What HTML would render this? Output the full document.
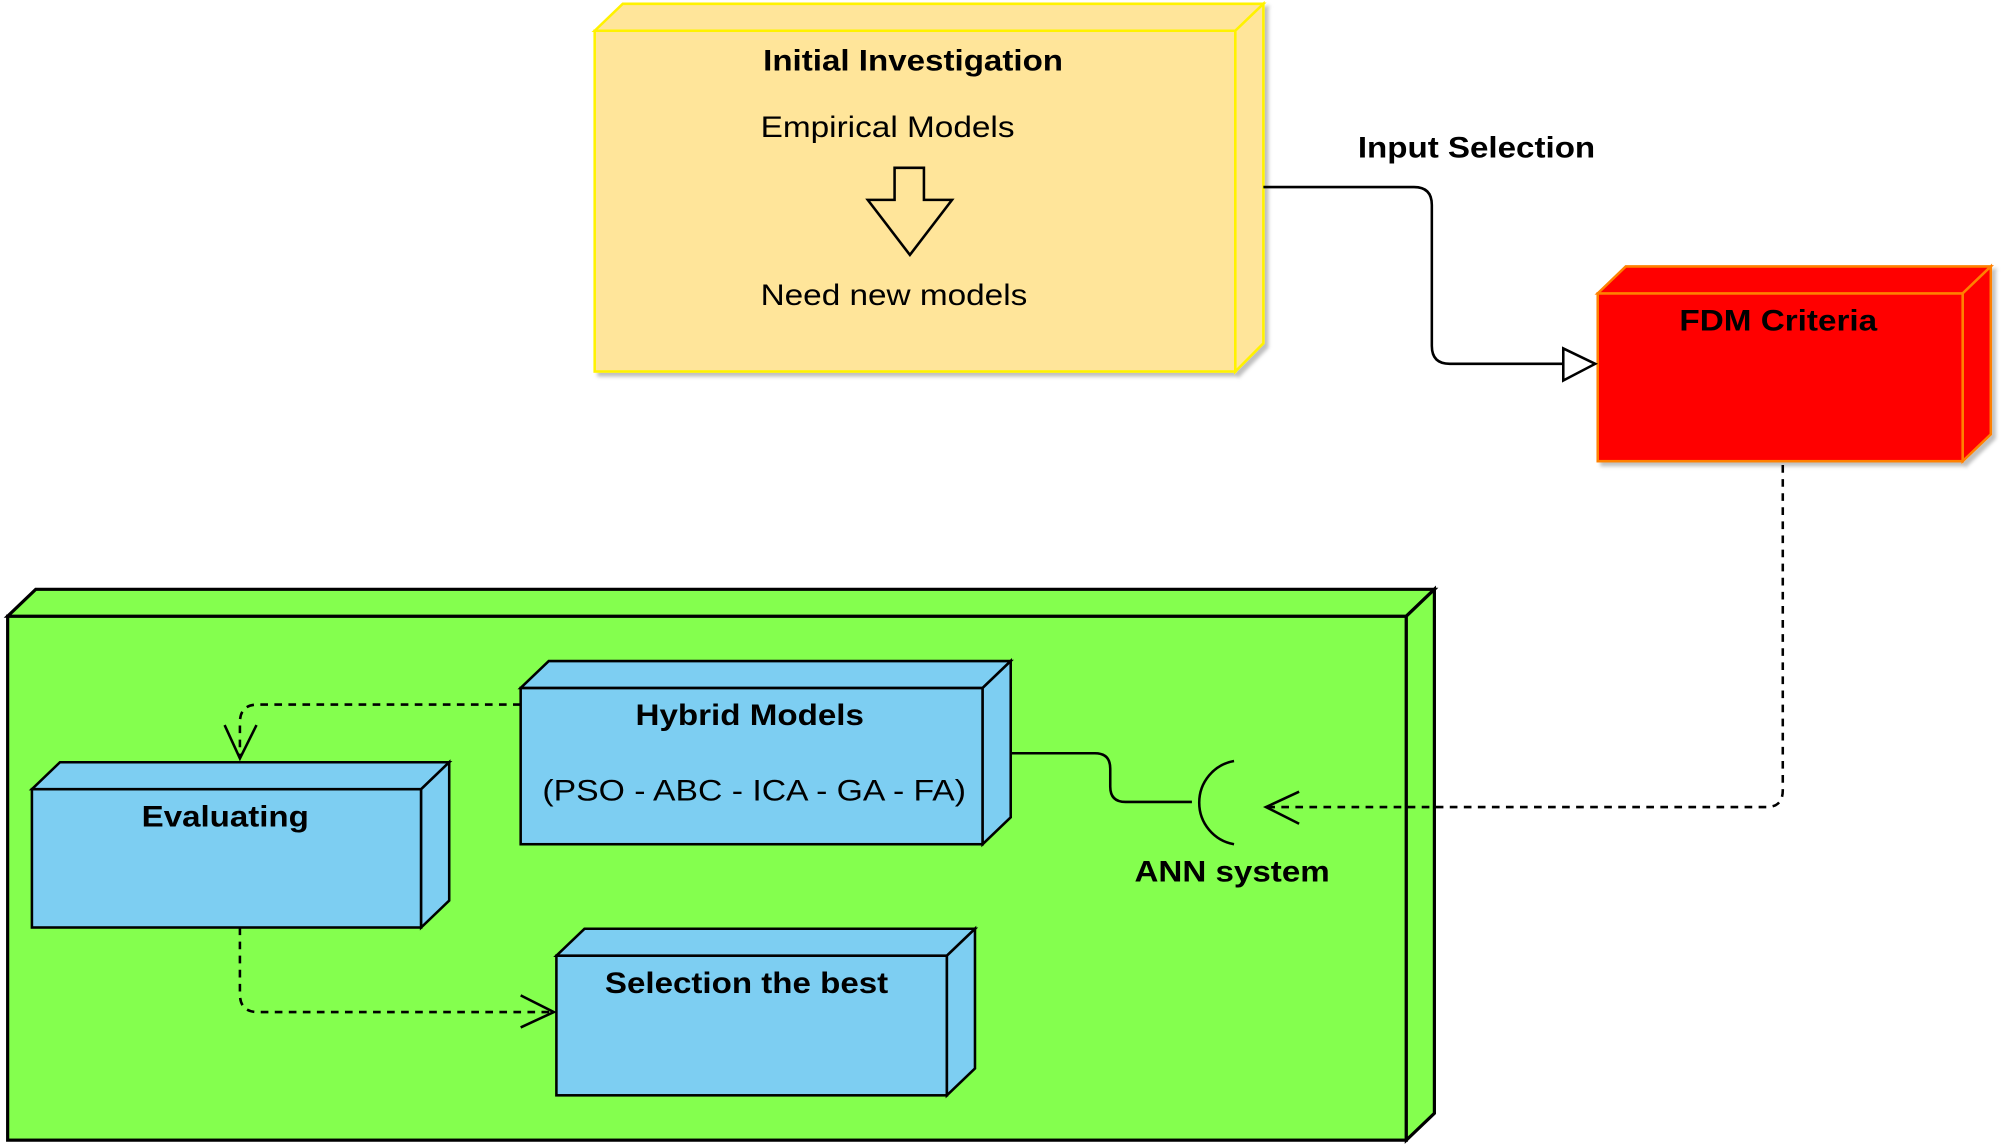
<!DOCTYPE html>
<html><head><meta charset="utf-8"><style>html,body{margin:0;padding:0;background:#fff}svg{display:block}</style></head>
<body>
<svg width="2001" height="1144" viewBox="0 0 1568 893" preserveAspectRatio="none" xmlns="http://www.w3.org/2000/svg" font-family="Liberation Sans, Arial, sans-serif">
<defs><filter id="sh" x="-5%" y="-5%" width="115%" height="115%"><feDropShadow dx="3" dy="3" stdDeviation="1.5" flood-color="#000" flood-opacity="0.25"/></filter></defs>
<g filter="url(#sh)" stroke="#FFF200" stroke-width="2" fill="#FFE59A">
<rect x="466" y="24" width="502" height="266"/>
<polygon points="466,24 488,3 990,3 968,24"/>
<polygon points="968,24 990,3 990,268 968,290"/>
</g>
<text x="598" y="55" font-size="23" font-weight="bold" textLength="235" lengthAdjust="spacingAndGlyphs">Initial Investigation</text>
<text x="596" y="107" font-size="23" textLength="199" lengthAdjust="spacingAndGlyphs">Empirical Models</text>
<text x="596" y="238" font-size="23" textLength="209" lengthAdjust="spacingAndGlyphs">Need new models</text>
<polygon points="701,131 724,131 724,156 746,156 713,199 680,156 701,156" fill="none" stroke="#000" stroke-width="2"/>
<g filter="url(#sh)" stroke="#FF8000" stroke-width="2" fill="#FF0000">
<rect x="1252" y="229" width="286" height="131"/>
<polygon points="1252,229 1274,208 1560,208 1538,229"/>
<polygon points="1538,229 1560,208 1560,339 1538,360"/>
</g>
<text x="1316" y="258" font-size="23" font-weight="bold" textLength="155" lengthAdjust="spacingAndGlyphs">FDM Criteria</text>
<text x="1064" y="123" font-size="23" font-weight="bold" textLength="186" lengthAdjust="spacingAndGlyphs">Input Selection</text>
<path d="M990,146 H1108 Q1122,146 1122,160 V270 Q1122,284 1136,284 H1225" fill="none" stroke="#000" stroke-width="2"/>
<polygon points="1225,272 1250,284 1225,297" fill="#fff" stroke="#000" stroke-width="2"/>
<g stroke="#000" stroke-width="2.5" fill="#84FF4E">
<rect x="6" y="481" width="1096" height="409"/>
<polygon points="6,481 28,460 1124,460 1102,481"/>
<polygon points="1102,481 1124,460 1124,869 1102,890"/>
</g>
<g stroke="#000" stroke-width="2" fill="#7DCEF2">
<rect x="408" y="537" width="362" height="122"/>
<polygon points="408,537 430,516 792,516 770,537"/>
<polygon points="770,537 792,516 792,638 770,659"/>
<rect x="25" y="616" width="305" height="108"/>
<polygon points="25,616 47,595 352,595 330,616"/>
<polygon points="330,616 352,595 352,703 330,724"/>
<rect x="436" y="746" width="306" height="109"/>
<polygon points="436,746 458,725 764,725 742,746"/>
<polygon points="742,746 764,725 764,834 742,855"/>
</g>
<text x="498" y="566" font-size="23" font-weight="bold" textLength="179" lengthAdjust="spacingAndGlyphs">Hybrid Models</text>
<text x="425" y="625" font-size="23" textLength="332" lengthAdjust="spacingAndGlyphs">(PSO - ABC - ICA - GA - FA)</text>
<text x="111" y="645" font-size="23" font-weight="bold" textLength="131" lengthAdjust="spacingAndGlyphs">Evaluating</text>
<text x="474" y="775" font-size="23" font-weight="bold" textLength="222" lengthAdjust="spacingAndGlyphs">Selection the best</text>
<text x="889" y="688" font-size="23" font-weight="bold" textLength="153" lengthAdjust="spacingAndGlyphs">ANN system</text>
<path d="M793,588 H858 Q870,588 870,600 V614 Q870,626 882,626 H934" fill="none" stroke="#000" stroke-width="2"/>
<path d="M967,594 A33,33 0 0 0 967,659" fill="none" stroke="#000" stroke-width="2"/>
<g fill="none" stroke="#000" stroke-width="2" stroke-dasharray="6,5">
<path d="M1397,363 V617 Q1397,630 1384,630 H994"/>
<path d="M408,550 H202 Q188,550 188,564 V590"/>
<path d="M188,724 V776 Q188,790 202,790 H432"/>
</g>
<g fill="none" stroke="#000" stroke-width="2">
<path d="M1018,618 L992,630 L1018,643"/>
<path d="M176,566 L188,592 L201,566"/>
<path d="M408,777 L434,790 L408,802"/>
</g>
</svg>
</body></html>
